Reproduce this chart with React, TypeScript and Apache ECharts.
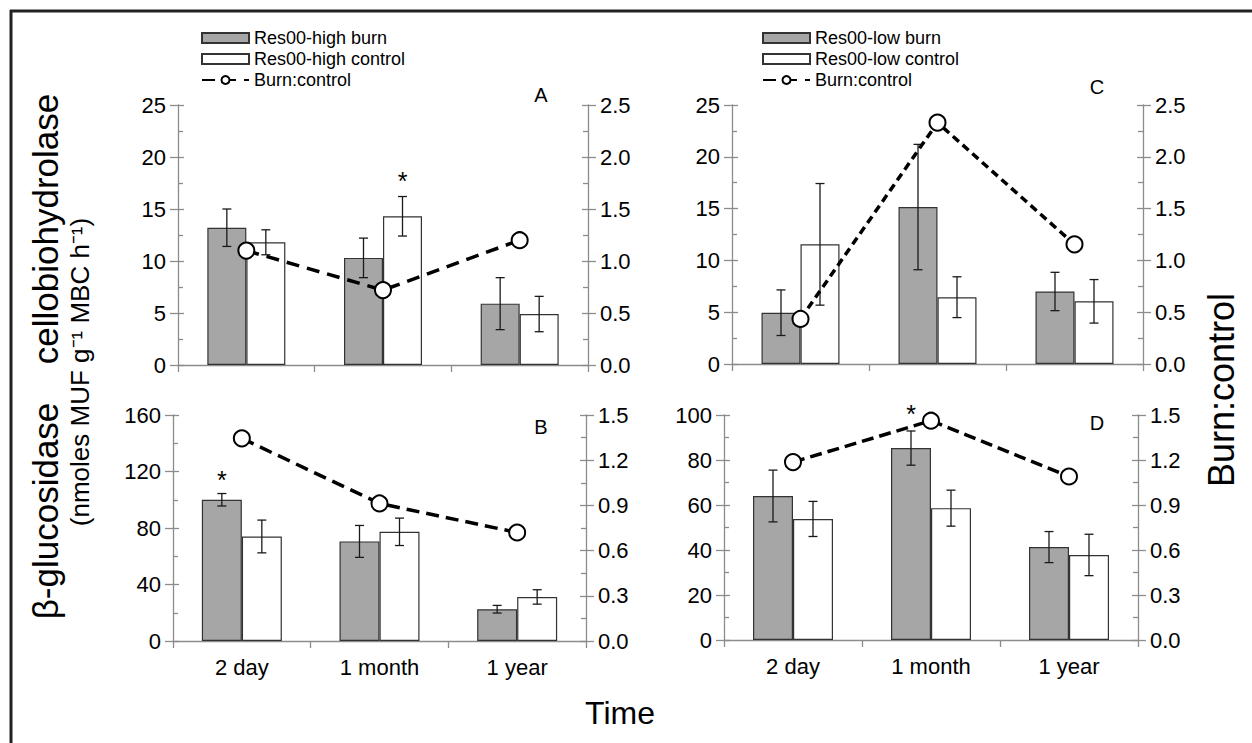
import React, { useEffect, useRef } from 'react';
import * as echarts from 'echarts';

const categories = ['2 day', '1 month', '1 year'];

// Panel A: cellobiohydrolase, Res00-high
const burnA = [13.2, 10.3, 5.9];
const burnErrA = [1.8, 1.9, 2.5];
const controlA = [11.8, 14.3, 4.9];
const controlErrA = [1.2, 1.9, 1.7];
const ratioA = [1.1, 0.72, 1.2];
const starsA = [[1, 18.2, 1]];

// Panel B: beta-glucosidase, Res00-high
const burnB = [100, 70.5, 22.5];
const burnErrB = [4.4, 11.3, 2.7];
const controlB = [74, 77.3, 31.2];
const controlErrB = [11.6, 9.7, 5.1];
const ratioB = [1.345, 0.913, 0.72];
const starsB = [[0, 117.4, -1]];

// Panel C: cellobiohydrolase, Res00-low
const burnC = [4.95, 15.15, 7.0];
const burnErrC = [2.2, 6.05, 1.85];
const controlC = [11.55, 6.45, 6.05];
const controlErrC = [5.87, 1.97, 2.1];
const ratioC = [0.435, 2.33, 1.155];
const starsC: number[][] = [];

// Panel D: beta-glucosidase, Res00-low
const burnD = [64.0, 85.3, 41.3];
const burnErrD = [11.5, 7.6, 6.9];
const controlD = [53.8, 58.6, 37.8];
const controlErrD = [7.8, 8.0, 9.2];
const ratioD = [1.186, 1.462, 1.09];
const starsD = [[1, 102.7, -1]];

const namesHigh = ['Res00-high burn', 'Res00-high control'];
const namesLow = ['Res00-low burn', 'Res00-low control'];
const ratioName = 'Burn:control';

const AX = '#8c8c8c';
const FONT = 'Liberation Sans, Arial, Helvetica, sans-serif';

type Panel = {
  grid: { left: number; top: number; width: number; height: number };
  burn: number[]; burnErr: number[]; control: number[]; controlErr: number[];
  ratio: number[]; stars: number[][];
  leftMax: number; leftInt: number; rightMax: number; rightInt: number;
  names: string[]; showX: boolean; barW: number; dash: number[];
};

const panels: Panel[] = [
  { grid: { left: 178, top: 105, width: 410, height: 260 }, burn: burnA, burnErr: burnErrA, control: controlA, controlErr: controlErrA, ratio: ratioA, stars: starsA, leftMax: 25, leftInt: 5, rightMax: 2.5, rightInt: 0.5, names: namesHigh, showX: false, barW: 39, dash: [13, 8] },
  { grid: { left: 173, top: 415, width: 413, height: 226 }, burn: burnB, burnErr: burnErrB, control: controlB, controlErr: controlErrB, ratio: ratioB, stars: starsB, leftMax: 160, leftInt: 40, rightMax: 1.5, rightInt: 0.3, names: namesHigh, showX: true, barW: 40, dash: [13, 7] },
  { grid: { left: 732, top: 105, width: 411, height: 259 }, burn: burnC, burnErr: burnErrC, control: controlC, controlErr: controlErrC, ratio: ratioC, stars: starsC, leftMax: 25, leftInt: 5, rightMax: 2.5, rightInt: 0.5, names: namesLow, showX: false, barW: 39, dash: [8, 5] },
  { grid: { left: 724, top: 415, width: 414, height: 225 }, burn: burnD, burnErr: burnErrD, control: controlD, controlErr: controlErrD, ratio: ratioD, stars: starsD, leftMax: 100, leftInt: 20, rightMax: 1.5, rightInt: 0.3, names: namesLow, showX: true, barW: 40, dash: [12, 6] },
];

const axLine = { color: AX, width: 1.3 };

function errorRender(barW: number) {
  return (params: any, api: any) => {
    const cat = api.value(0), v = api.value(1), e = api.value(2), side = api.value(3);
    const top = api.coord([cat, v + e]);
    const bot = api.coord([cat, v - e]);
    const x = top[0] + (side * barW) / 2;
    const cap = 4.5;
    const style = { stroke: '#1a1a1a', lineWidth: 1.3, fill: 'none' };
    return {
      type: 'group',
      children: [
        { type: 'line', shape: { x1: x, y1: top[1], x2: x, y2: bot[1] }, style },
        { type: 'line', shape: { x1: x - cap, y1: top[1], x2: x + cap, y2: top[1] }, style },
        { type: 'line', shape: { x1: x - cap, y1: bot[1], x2: x + cap, y2: bot[1] }, style },
      ],
    };
  };
}

function starRender(barW: number) {
  return (params: any, api: any) => {
    const p = api.coord([api.value(0), api.value(1)]);
    const x = p[0] + (api.value(2) * barW) / 2;
    return {
      type: 'text',
      x,
      y: p[1] + 5,
      style: { text: '*', fontSize: 25, fontFamily: FONT, fill: '#000', align: 'center', verticalAlign: 'middle' },
    };
  };
}

function buildOption() {
  const grid: any[] = [];
  const xAxis: any[] = [];
  const yAxis: any[] = [];
  const series: any[] = [];

  panels.forEach((p, i) => {
    grid.push({ ...p.grid, containLabel: false });
    xAxis.push({
      gridIndex: i, type: 'category', data: categories, position: 'bottom',
      axisLine: { show: true, onZero: false, lineStyle: axLine },
      axisTick: { show: true, alignWithLabel: false, length: 7, lineStyle: axLine },
      axisLabel: { show: p.showX, fontSize: 22, color: '#000', margin: 15, fontFamily: FONT },
      splitLine: { show: false },
    });
    const leftBase = { gridIndex: i, type: 'value', min: 0, max: p.leftMax, interval: p.leftInt, splitLine: { show: false } };
    const rightBase = { gridIndex: i, type: 'value', min: 0, max: p.rightMax, interval: p.rightInt, splitLine: { show: false } };
    yAxis.push({
      ...leftBase, position: 'left',
      axisLine: { show: true, lineStyle: axLine },
      axisTick: { show: true, inside: false, length: 8, lineStyle: axLine },
      axisLabel: { fontSize: 22, color: '#000', margin: 12, fontFamily: FONT },
    });
    yAxis.push({
      ...leftBase, position: 'left',
      axisLine: { show: false },
      axisTick: { show: true, inside: true, length: 6, lineStyle: axLine },
      minorTick: { show: true, splitNumber: 2, length: 5, lineStyle: axLine },
      axisLabel: { show: false },
    });
    yAxis.push({
      ...rightBase, position: 'right',
      axisLine: { show: true, lineStyle: axLine },
      axisTick: { show: true, inside: false, length: 8, lineStyle: axLine },
      axisLabel: { fontSize: 22, color: '#000', margin: 12, fontFamily: FONT, formatter: (v: number) => v.toFixed(1) },
    });
    yAxis.push({
      ...rightBase, position: 'right',
      axisLine: { show: false },
      axisTick: { show: true, inside: true, length: 6, lineStyle: axLine },
      minorTick: { show: true, splitNumber: 2, length: 5, lineStyle: axLine },
      axisLabel: { show: false },
    });
    const yl = 4 * i;
    series.push({
      type: 'bar', name: p.names[0], xAxisIndex: i, yAxisIndex: yl, data: p.burn,
      barWidth: p.barW, barGap: '0%',
      itemStyle: { color: '#a6a6a6', borderColor: '#333333', borderWidth: 1.2 }, z: 2,
    });
    series.push({
      type: 'bar', name: p.names[1], xAxisIndex: i, yAxisIndex: yl, data: p.control,
      barWidth: p.barW, barGap: '0%',
      itemStyle: { color: '#ffffff', borderColor: '#333333', borderWidth: 1.2 }, z: 2,
    });
    const errData = p.burn.map((v, k) => [k, v, p.burnErr[k], -1])
      .concat(p.control.map((v, k) => [k, v, p.controlErr[k], 1]));
    series.push({
      type: 'custom', xAxisIndex: i, yAxisIndex: yl, data: errData,
      renderItem: errorRender(p.barW), z: 3, silent: true,
    });
    series.push({
      type: 'line', name: ratioName, xAxisIndex: i, yAxisIndex: yl + 2, data: p.ratio,
      symbol: 'circle', symbolSize: 16,
      itemStyle: { color: '#ffffff', borderColor: '#000', borderWidth: 2 },
      lineStyle: { color: '#000', width: 3.5, type: p.dash },
      z: 5,
    });
    if (p.stars.length) {
      series.push({
        type: 'custom', xAxisIndex: i, yAxisIndex: yl, data: p.stars,
        renderItem: starRender(p.barW), z: 6, silent: true, clip: false,
      });
    }
  });

  const legendBase = {
    orient: 'vertical', top: 29, padding: 0, itemWidth: 47, itemHeight: 10, itemGap: 3,
    selectedMode: false,
    textStyle: { fontSize: 18, color: '#000', fontFamily: FONT, lineHeight: 18 },
  };

  const txt = (x: number, y: number, text: string, fontSize: number, rotation = 0) => ({
    type: 'text', x, y, rotation,
    style: { text, fontSize, fontFamily: FONT, fill: '#000', align: 'center', verticalAlign: 'middle' },
  });

  return {
    animation: false,
    backgroundColor: '#ffffff',
    textStyle: { fontFamily: FONT },
    grid, xAxis, yAxis, series,
    legend: [
      { ...legendBase, left: 201, data: [{ name: namesHigh[0], icon: 'rect' }, { name: namesHigh[1], icon: 'rect' }, { name: ratioName }] },
      { ...legendBase, left: 762, data: [{ name: namesLow[0], icon: 'rect' }, { name: namesLow[1], icon: 'rect' }, { name: ratioName }] },
    ],
    graphic: [
      { type: 'line', shape: { x1: 10, y1: 11, x2: 1252, y2: 11 }, style: { stroke: '#222', lineWidth: 3 } },
      { type: 'line', shape: { x1: 11, y1: 10, x2: 11, y2: 743 }, style: { stroke: '#222', lineWidth: 3 } },
      txt(541, 95, 'A', 20),
      txt(541, 427, 'B', 20),
      txt(1097, 87, 'C', 20),
      txt(1097, 423, 'D', 20),
      txt(45, 229, 'cellobiohydrolase', 35, Math.PI / 2),
      txt(45, 511, 'β-glucosidase', 35, Math.PI / 2),
      txt(80, 372, '(nmoles MUF g⁻¹ MBC h⁻¹)', 26, Math.PI / 2),
      txt(1221, 390, 'Burn:control', 36, Math.PI / 2),
      txt(620, 713, 'Time', 32),
    ],
  };
}

export default function App() {
  const ref = useRef<HTMLDivElement>(null);
  useEffect(() => {
    if (!ref.current) return;
    const chart = echarts.init(ref.current, undefined, { renderer: 'svg' });
    chart.setOption(buildOption() as any);
    return () => chart.dispose();
  }, []);
  return (
    <div
      ref={ref}
      style={{ position: 'absolute', left: 0, top: 0, width: 1252, height: 743, background: '#fff' }}
    />
  );
}
